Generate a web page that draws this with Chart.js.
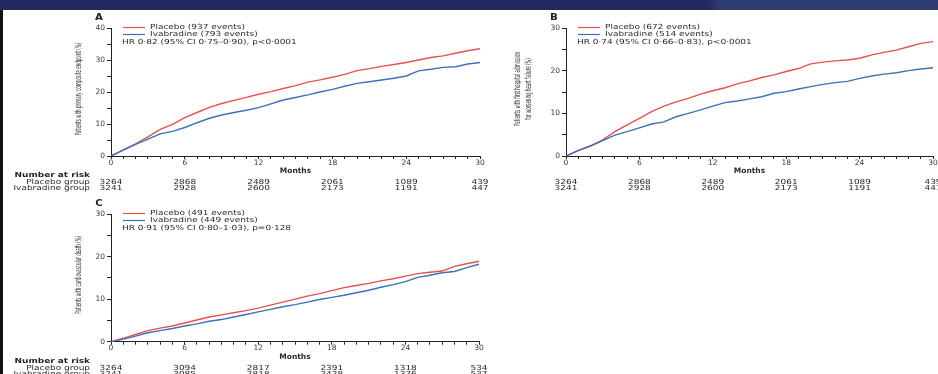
<!DOCTYPE html>
<html>
<head>
<meta charset="utf-8">
<script src="https://cdn.jsdelivr.net/npm/chart.js@4.4.0/dist/chart.umd.min.js"></script>
<style>
  body { margin: 0; width: 938px; height: 374px; overflow: hidden; background: #fff; position: relative; }
  #topbar { position: absolute; left: 0; top: 0; width: 938px; height: 10px;
            background: linear-gradient(98deg, #222a63 0, #222a63 75.5%, #2f3b6e 76.5%, #2f3b6e 100%); }
  #side { position: absolute; left: 0; top: 10px; width: 3px; height: 364px; background: #111; }
  canvas { position: absolute; }
</style>
</head>
<body>
<div id="topbar"></div>
<div id="side"></div>
<canvas id="chartA" width="505" height="185" style="left:0;top:10px"></canvas>
<canvas id="chartB" width="450" height="185" style="left:505px;top:10px"></canvas>
<canvas id="chartC" width="505" height="179" style="left:0;top:195px"></canvas>
<script>
// months on the x axis
const months = [0, 1, 2, 3, 4, 5, 6, 7, 8, 9, 10, 11, 12, 13, 14, 15, 16, 17, 18, 19, 20,
                21, 22, 23, 24, 25, 26, 27, 28, 29, 30];

// A: primary composite endpoint (%)
const placeboA = [0, 1.9, 3.8, 6.0, 8.3, 9.9, 12.0, 13.6, 15.2, 16.4, 17.4, 18.3, 19.3, 20.1, 21.1, 22.0,
                  23.1, 23.8, 24.6, 25.5, 26.7, 27.3, 28.0, 28.6, 29.2, 30.0, 30.8, 31.3, 32.1, 32.9, 33.5];
const ivabradineA = [0, 1.8, 3.6, 5.3, 6.9, 7.7, 8.9, 10.4, 11.8, 12.8, 13.6, 14.3, 15.1, 16.3, 17.5, 18.3,
                     19.1, 20.0, 20.8, 21.8, 22.7, 23.2, 23.75, 24.3, 25.0, 26.6, 27.1, 27.7, 27.9, 28.75, 29.2];

// B: first hospital admission for worsening heart failure (%)
const placeboB = [0, 1.3, 2.4, 3.8, 5.7, 7.3, 8.8, 10.4, 11.7, 12.7, 13.5, 14.5, 15.3, 16.0, 16.9, 17.6,
                  18.4, 19.0, 19.8, 20.5, 21.6, 22.0, 22.3, 22.5, 22.9, 23.7, 24.3, 24.8, 25.6, 26.4, 26.8];
const ivabradineB = [0, 1.25, 2.3, 3.6, 4.9, 5.7, 6.6, 7.5, 8.0, 9.2, 10.0, 10.8, 11.7, 12.5, 12.9, 13.4,
                     13.9, 14.7, 15.1, 15.7, 16.25, 16.8, 17.2, 17.5, 18.2, 18.75, 19.2, 19.5, 20.0, 20.4, 20.7];

// C: cardiovascular death (%)
const placeboC = [0, 0.8, 1.7, 2.6, 3.2, 3.7, 4.4, 5.1, 5.8, 6.3, 6.8, 7.3, 7.9, 8.6, 9.3, 10.0,
                  10.7, 11.3, 12.0, 12.7, 13.2, 13.7, 14.3, 14.8, 15.4, 16.0, 16.3, 16.6, 17.7, 18.3, 18.9];
const ivabradineC = [0, 0.6, 1.3, 2.1, 2.6, 3.1, 3.7, 4.2, 4.8, 5.2, 5.8, 6.4, 7.0, 7.6, 8.2, 8.7,
                     9.3, 9.9, 10.4, 10.9, 11.5, 12.1, 12.8, 13.4, 14.1, 15.1, 15.6, 16.2, 16.5, 17.4, 18.2];

// number at risk
const riskMonths = [0, 6, 12, 18, 24, 30];
const riskPlaceboA = [3264, 2868, 2489, 2061, 1089, 439];
const riskIvabradineA = [3241, 2928, 2600, 2173, 1191, 447];
const riskPlaceboB = [3264, 2868, 2489, 2061, 1089, 439];
const riskIvabradineB = [3241, 2928, 2600, 2173, 1191, 447];
const riskPlaceboC = [3264, 3094, 2817, 2391, 1318, 534];
const riskIvabradineC = [3241, 3085, 2818, 2428, 1376, 537];

const placeboColor = '#e8504f';
const ivabradineColor = '#3b72b8';
const textColor = '#2a2a2a';
const SX = 1.28; // the figure text is drawn a bit wide

function label(ctx, text, x, y, font, color, align) {
    ctx.save();
    ctx.font = font;
    ctx.fillStyle = color;
    ctx.textAlign = align;
    ctx.textBaseline = 'middle';
    ctx.translate(x, y);
    ctx.scale(SX, 1);
    ctx.fillText(text, 0, 0);
    ctx.restore();
}

function panelPlugin(p) {
    return {
        id: 'panel',
        afterDraw(chart) {
            const ctx = chart.ctx;
            const a = chart.chartArea;
            const xs = chart.scales.x;

            label(ctx, p.letter, a.left - 12, a.top - 10, 'bold 8px "DejaVu Sans"', '#222', 'center');

            // legend
            [[placeboColor, p.placeboText, -1], [ivabradineColor, p.ivabradineText, 6]].forEach(([c, t, dy]) => {
                ctx.save();
                ctx.strokeStyle = c;
                ctx.lineWidth = 1.2;
                ctx.beginPath();
                ctx.moveTo(a.left + 12, a.top + dy + 0.5);
                ctx.lineTo(a.left + 34, a.top + dy + 0.5);
                ctx.stroke();
                ctx.restore();
                label(ctx, t, a.left + 39, a.top + dy, '7px "DejaVu Sans"', textColor, 'left');
            });
            label(ctx, p.hrText, a.left + 11, a.top + 14, '7px "DejaVu Sans"', textColor, 'left');

            // y axis title, narrow and rotated
            ctx.save();
            ctx.font = '6.5px "DejaVu Sans"';
            ctx.fillStyle = textColor;
            ctx.textAlign = 'center';
            ctx.textBaseline = 'middle';
            p.yTitle.forEach((line, i) => {
                ctx.save();
                ctx.translate(a.left + p.yTitleX + i * 11, (a.top + a.bottom) / 2 - 3);
                ctx.rotate(-Math.PI / 2);
                ctx.scale(0.62, 1.3);
                ctx.fillText(line, 0, 0);
                ctx.restore();
            });
            ctx.restore();

            // number at risk table
            if (p.rowLabels) {
                label(ctx, 'Number at risk', a.left - 21, a.bottom + 19.5, 'bold 7px "DejaVu Sans"', '#222', 'right');
                label(ctx, 'Placebo group', a.left - 21, a.bottom + 26, '7px "DejaVu Sans"', textColor, 'right');
                label(ctx, 'Ivabradine group', a.left - 21, a.bottom + 32, '7px "DejaVu Sans"', textColor, 'right');
            }
            riskMonths.forEach((m, i) => {
                const x = xs.getPixelForValue(m);
                label(ctx, String(p.riskPlacebo[i]), x, a.bottom + 26, '7px "DejaVu Sans"', textColor, 'center');
                label(ctx, String(p.riskIvabradine[i]), x, a.bottom + 32, '7px "DejaVu Sans"', textColor, 'center');
            });
        }
    };
}

function makePanel(id, p) {
    const toPoints = arr => months.map((m, i) => ({ x: m, y: arr[i] }));
    new Chart(document.getElementById(id), {
        type: 'line',
        data: {
            datasets: [
                { data: toPoints(p.ivabradine), borderColor: ivabradineColor, borderWidth: 1.4, pointRadius: 0, tension: 0 },
                { data: toPoints(p.placebo), borderColor: placeboColor, borderWidth: 1.4, pointRadius: 0, tension: 0 }
            ]
        },
        options: {
            responsive: false,
            animation: false,
            layout: { padding: p.padding },
            plugins: { legend: { display: false }, tooltip: { enabled: false } },
            scales: {
                x: {
                    type: 'linear',
                    min: 0,
                    max: 30,
                    afterFit: scale => { scale.height = 19; },
                    grid: { drawOnChartArea: false, color: '#222', tickLength: 3 },
                    border: { color: '#222', width: 1 },
                    ticks: {
                        stepSize: 1,
                        autoSkip: false,
                        maxRotation: 0,
                        padding: 0,
                        color: '#3a3a3a',
                        font: { family: 'DejaVu Sans', size: 7.5, lineHeight: 1 },
                        callback: v => (v % 6 === 0 ? v : '')
                    },
                    title: {
                        display: true,
                        text: 'Months',
                        color: '#2a2a2a',
                        padding: { top: 0, bottom: 0 },
                        font: { family: 'DejaVu Sans', size: 7.5, weight: 'bold', lineHeight: 1 }
                    }
                },
                y: {
                    min: 0,
                    max: p.yMax,
                    afterFit: scale => { scale.width = p.yWidth; },
                    grid: { drawOnChartArea: false, color: '#222', tickLength: 4 },
                    border: { color: '#222', width: 1 },
                    ticks: {
                        stepSize: 5,
                        padding: 2,
                        color: '#3a3a3a',
                        font: { family: 'DejaVu Sans', size: 7.5 },
                        callback: v => (v % 10 === 0 ? v : '')
                    }
                }
            }
        },
        plugins: [panelPlugin(p)]
    });
}

makePanel('chartA', {
    letter: 'A',
    placebo: placeboA,
    ivabradine: ivabradineA,
    yMax: 40,
    yWidth: 111,
    padding: { left: 0, top: 18, right: 25, bottom: 20 },
    placeboText: 'Placebo (937 events)',
    ivabradineText: 'Ivabradine (793 events)',
    hrText: 'HR 0·82 (95% CI 0·75–0·90), p<0·0001',
    yTitle: ['Patients with primary composite endpoint (%)'],
    yTitleX: -32.5,
    rowLabels: true,
    riskPlacebo: riskPlaceboA,
    riskIvabradine: riskIvabradineA
});

makePanel('chartB', {
    letter: 'B',
    placebo: placeboB,
    ivabradine: ivabradineB,
    yMax: 30,
    yWidth: 61,
    padding: { left: 0, top: 18, right: 22, bottom: 20 },
    placeboText: 'Placebo (672 events)',
    ivabradineText: 'Ivabradine (514 events)',
    hrText: 'HR 0·74 (95% CI 0·66–0·83), p<0·0001',
    yTitle: ['Patients with first hospital admission', 'for worsening heart failure (%)'],
    yTitleX: -48,
    rowLabels: false,
    riskPlacebo: riskPlaceboB,
    riskIvabradine: riskIvabradineB
});

makePanel('chartC', {
    letter: 'C',
    placebo: placeboC,
    ivabradine: ivabradineC,
    yMax: 30,
    yWidth: 111,
    padding: { left: 0, top: 19, right: 26, bottom: 13.3 },
    placeboText: 'Placebo (491 events)',
    ivabradineText: 'Ivabradine (449 events)',
    hrText: 'HR 0·91 (95% CI 0·80–1·03), p=0·128',
    yTitle: ['Patients with cardiovascular death (%)'],
    yTitleX: -32,
    rowLabels: true,
    riskPlacebo: riskPlaceboC,
    riskIvabradine: riskIvabradineC
});
</script>
</body>
</html>
